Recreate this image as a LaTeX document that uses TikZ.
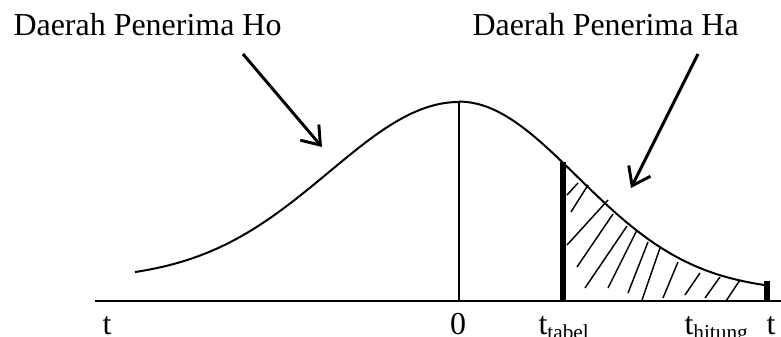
\documentclass[tikz,border=0pt]{standalone}
\usepackage{fontspec}
\setmainfont{Liberation Serif}
\usepackage{tikz}
\usetikzlibrary{arrows.meta,positioning}
\tikzset{
    curve/.style={line width=0.75pt},
    axis/.style={line width=0.8pt},
    pointer/.style={line width=1.1pt, -{Straight Barb[length=2.2mm,width=3.2mm]}},
    hatch/.style={line width=0.55pt},
    txt/.style={font=\fontsize{12}{14}\selectfont, inner sep=0pt},
}

\begin{document}
\begin{tikzpicture}[x=0.0132cm, y=-0.0132cm]
        \useasboundingbox (0,0) rectangle (781,337);

        % Region labels
        \node [txt, anchor=base west] (lblHo) at (13,36)  {Daerah Penerima Ho};
        \node [txt, anchor=base west] (lblHa) at (472,36) {Daerah Penerima Ha};

        % Key points
        \coordinate (axL)   at (95,301);
        \coordinate (axR)   at (781,301);
        \coordinate (peak)  at (459,102);
        \coordinate (zero)  at (459,301);
        \coordinate (tabT)  at (563,162);
        \coordinate (tabB)  at (563,302);
        \coordinate (hitT)  at (767,281);
        \coordinate (hitB)  at (767,301);
        \coordinate (hoS)   at (243,54);
        \coordinate (hoE)   at (322,147);
        \coordinate (haS)   at (698,54);
        \coordinate (haE)   at (631,188);

        % Axis and curve
        \draw[axis] (axL) -- (axR);
        \draw[curve] plot[domain=135:459, samples=70] (\x, {272-178*(exp(-((\x-459)/130)^2/2)-0.045)});
        \draw[curve] plot[domain=459:765, samples=70] (\x, {285-190*(exp(-((\x-459)/118)^2/2)-0.035)});
        \draw[line width=0.5pt] (peak) -- (zero);

        % Critical values
        \draw[line width=1.9pt] (tabT) -- (tabB);
        \draw[line width=2.6pt] (hitT) -- (hitB);

        % Rejection area hatching
        \draw[hatch] (567,195) -- (578,183)  (571,212) -- (588,185)
                     (567,245) -- (608,200)  (577,267) -- (613,214)
                     (585,288) -- (627,226)  (608,288) -- (637,230)
                     (628,293) -- (648,242)  (642,300) -- (660,248)
                     (663,298) -- (678,262)  (685,295) -- (700,273)
                     (705,298) -- (720,277)  (726,301) -- (740,280);

        % Pointers
        \draw[pointer] (hoS) -- (hoE);
        \draw[pointer] (haS) -- (haE);

        % Axis labels
        \node [txt, anchor=base]      (lblT)   at (107,335) {t};
        \node [txt, anchor=base]      (lblO)   at (458,335) {0};
        \node [txt, anchor=base west] (lblTab) at (538,335) {t\textsubscript{tabel}};
        \node [txt, anchor=base west] (lblHit) at (684,335) {t\textsubscript{hitung}};
        \node [txt, anchor=base west] (lblTr)  at (766,335) {t};
    \end{tikzpicture}
\end{document}
